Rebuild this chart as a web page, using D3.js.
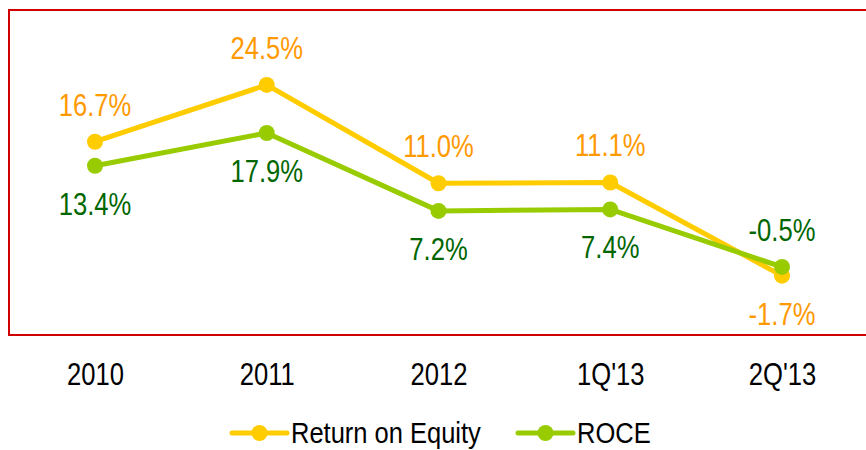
<!DOCTYPE html>
<html>
<head>
<meta charset="utf-8">
<script src="https://cdn.jsdelivr.net/npm/d3@7"></script>
<style>
  html, body { margin: 0; padding: 0; background: #fff; }
  svg text { font-family: "Liberation Sans", Arial, sans-serif; }
</style>
</head>
<body>
<svg id="chart" width="866" height="450"></svg>
<script>
const categories = ["2010", "2011", "2012", "1Q'13", "2Q'13"];
const roe = [16.7, 24.5, 11.0, 11.1, -1.7];
const roce = [13.4, 17.9, 7.2, 7.4, -0.5];
const seriesNames = ["Return on Equity", "ROCE"];

const svg = d3.select("#chart");

const x = d3.scalePoint().domain(categories).range([95, 782]);
const y = d3.scaleLinear().domain([-10, 30]).range([336.1, 44.9]);

// plot border
svg.append("rect")
  .attr("x", 9).attr("y", 10).attr("width", 870).attr("height", 325)
  .attr("fill", "none").attr("stroke", "#D00000").attr("stroke-width", 2);

const series = [
  { name: seriesNames[0], values: roe, line: "#FFCC00", label: "#FF9900" },
  { name: seriesNames[1], values: roce, line: "#99CC00", label: "#006600" }
];

const line = d3.line().x((d, i) => x(categories[i])).y(d => y(d));

series.forEach(s => {
  const g = svg.append("g");
  g.append("path").datum(s.values)
    .attr("d", line).attr("fill", "none")
    .attr("stroke", s.line).attr("stroke-width", 5)
    .attr("stroke-linejoin", "round");
  g.selectAll("circle").data(s.values).join("circle")
    .attr("cx", (d, i) => x(categories[i])).attr("cy", d => y(d))
    .attr("r", 8).attr("fill", s.line);
});

const SX = 0.8;
function fmt(v) { return v.toFixed(1) + "%"; }
const roeAbove = [true, true, true, true, false];
const roceAbove = [false, false, false, false, true];
[[series[0], roeAbove], [series[1], roceAbove]].forEach(([s, above]) => {
  svg.append("g").selectAll("text").data(s.values).join("text")
    .attr("transform", (d, i) => `translate(${x(categories[i])},${y(d) + (above[i] ? -26 : 49)}) scale(${SX},1)`)
    .attr("text-anchor", "middle")
    .attr("font-size", 32)
    .attr("fill", s.label)
    .text(d => fmt(d));
});

// x axis labels
const axis = d3.axisBottom(x).tickSize(0).tickPadding(0);
const ag = svg.append("g").attr("transform", "translate(0,362)").call(axis);
ag.select(".domain").remove();
ag.selectAll("text")
  .attr("dy", 0).attr("y", 23)
  .attr("transform", `scale(${SX},1)`)
  .attr("font-size", 32).attr("fill", "#000")
  .style("font-family", '"Liberation Sans", Arial, sans-serif');

// legend
const legend = [
  { name: seriesNames[0], color: "#FFCC00", x0: 232 },
  { name: seriesNames[1], color: "#99CC00", x0: 518 }
];
legend.forEach(l => {
  const g = svg.append("g");
  g.append("line").attr("x1", l.x0).attr("x2", l.x0 + 55)
    .attr("y1", 433).attr("y2", 433)
    .attr("stroke", l.color).attr("stroke-width", 5).attr("stroke-linecap", "round");
  g.append("circle").attr("cx", l.x0 + 27.5).attr("cy", 433).attr("r", 8).attr("fill", l.color);
  g.append("text").attr("transform", `translate(${l.x0 + 59},443) scale(0.85,1)`)
    .attr("font-size", 30).attr("fill", "#000").text(l.name);
});
</script>
</body>
</html>
